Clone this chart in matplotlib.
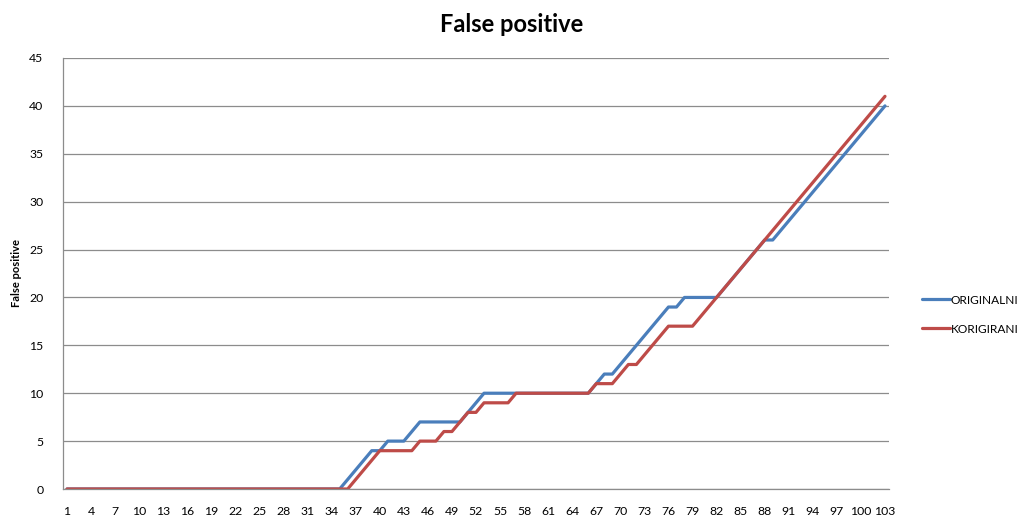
import matplotlib
matplotlib.use("Agg")
import matplotlib.pyplot as plt

title = "False positive"
y_label = "False positive"
series_names = ["ORIGINALNI", "KORIGIRANI"]
x_values = list(range(1, 104))
x_tick_labels = list(range(1, 104, 3))
y_ticks = [0, 5, 10, 15, 20, 25, 30, 35, 40, 45]

originalni = [
    0, 0, 0, 0, 0, 0, 0, 0, 0, 0,          # 1-10
    0, 0, 0, 0, 0, 0, 0, 0, 0, 0,          # 11-20
    0, 0, 0, 0, 0, 0, 0, 0, 0, 0,          # 21-30
    0, 0, 0, 0, 0, 1, 2, 3, 4, 4,          # 31-40
    5, 5, 5, 6, 7, 7, 7, 7, 7, 7,          # 41-50
    8, 9, 10, 10, 10, 10, 10, 10, 10, 10,  # 51-60
    10, 10, 10, 10, 10, 10, 11, 12, 12, 13,  # 61-70
    14, 15, 16, 17, 18, 19, 19, 20, 20, 20,  # 71-80
    20, 20, 21, 22, 23, 24, 25, 26, 26, 27,  # 81-90
    28, 29, 30, 31, 32, 33, 34, 35, 36, 37,  # 91-100
    38, 39, 40,                             # 101-103
]
korigirani = [
    0, 0, 0, 0, 0, 0, 0, 0, 0, 0,
    0, 0, 0, 0, 0, 0, 0, 0, 0, 0,
    0, 0, 0, 0, 0, 0, 0, 0, 0, 0,
    0, 0, 0, 0, 0, 0, 1, 2, 3, 4,
    4, 4, 4, 4, 5, 5, 5, 6, 6, 7,
    8, 8, 9, 9, 9, 9, 10, 10, 10, 10,
    10, 10, 10, 10, 10, 10, 11, 11, 11, 12,
    13, 13, 14, 15, 16, 17, 17, 17, 17, 18,
    19, 20, 21, 22, 23, 24, 25, 26, 27, 28,
    29, 30, 31, 32, 33, 34, 35, 36, 37, 38,
    39, 40, 41,
]

colors = ["#4A7EBB", "#BE4B48"]

plt.rcParams['font.family'] = ['Lato', 'DejaVu Sans']

fig = plt.figure(figsize=(10.24, 5.2), dpi=100)
ax = fig.add_axes([63 / 1024, 31 / 520, 826 / 1024, 431 / 520])

for name, vals, c in zip(series_names, [originalni, korigirani], colors):
    ax.plot(x_values, vals, color=c, linewidth=2.3, label=name,
            solid_joinstyle='round', solid_capstyle='round')

ax.set_xlim(0.5, 103.5)
ax.set_ylim(0, 45)
ax.set_xticks(x_tick_labels)
ax.set_xticklabels([str(v) for v in x_tick_labels], fontsize=8.8)
ax.set_yticks(y_ticks)
ax.set_yticklabels([str(v) for v in y_ticks], fontsize=8.8)
ax.tick_params(axis='x', length=0, pad=12)
ax.tick_params(axis='y', length=0, pad=14)

ax.grid(axis='y', color='#8C8C8C', linewidth=0.9)
ax.set_axisbelow(True)
for s in ['top', 'right']:
    ax.spines[s].set_visible(False)
for s in ['left', 'bottom']:
    ax.spines[s].set_color('#8C8C8C')
    ax.spines[s].set_linewidth(0.9)

fig.text(17 / 1024, 1 - 273 / 520, y_label, rotation=90, ha='center',
         va='center', fontsize=8, fontweight='bold')
fig.text(512 / 1024, 1 - 25 / 520, title, ha='center', va='center',
         fontsize=17, fontweight='bold')

fig.legend(loc='center left', bbox_to_anchor=(0.890, 0.395), frameon=False,
           fontsize=8.6, handlelength=2.3, handletextpad=0.1, labelspacing=1.5)

fig.savefig("out.png", dpi=100)
